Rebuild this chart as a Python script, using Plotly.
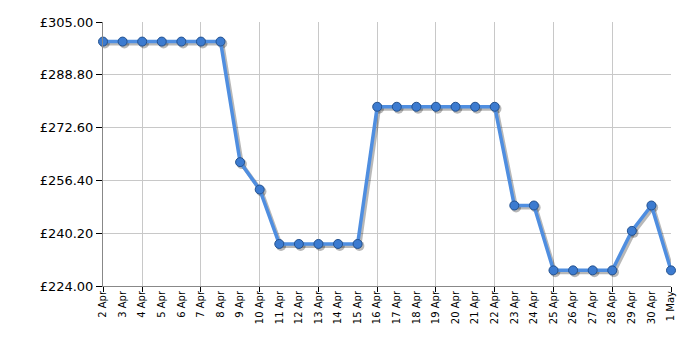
import plotly.graph_objects as go
import numpy as np

dates = ["2 Apr", "3 Apr", "4 Apr", "5 Apr", "6 Apr", "7 Apr", "8 Apr", "9 Apr", "10 Apr",
         "11 Apr", "12 Apr", "13 Apr", "14 Apr", "15 Apr", "16 Apr", "17 Apr", "18 Apr",
         "19 Apr", "20 Apr", "21 Apr", "22 Apr", "23 Apr", "24 Apr", "25 Apr", "26 Apr",
         "27 Apr", "28 Apr", "29 Apr", "30 Apr", "1 May"]
prices = [298.99, 298.99, 298.99, 298.99, 298.99, 298.99, 298.99, 262.0, 253.6,
          236.9, 236.9, 236.9, 236.9, 236.9, 278.99, 278.99, 278.99,
          278.99, 278.99, 278.99, 278.99, 248.7, 248.7, 228.8, 228.8,
          228.8, 228.8, 240.9, 248.7, 228.8]
y_ticks = [224.00, 240.20, 256.40, 272.60, 288.80, 305.00]
y_labels = ["£224.00", "£240.20", "£256.40", "£272.60", "£288.80", "£305.00"]
grid_days = ["2 Apr", "4 Apr", "7 Apr", "10 Apr", "13 Apr", "16 Apr", "19 Apr",
             "22 Apr", "25 Apr", "28 Apr", "1 May"]

xi = np.arange(len(dates))
grid_idx = [dates.index(d) for d in grid_days]

fig = go.Figure()
# shadow
fig.add_trace(go.Scatter(
    x=xi + 0.09, y=np.array(prices) - 0.6, mode="lines+markers",
    line=dict(color="rgba(0,0,0,0.28)", width=4),
    marker=dict(size=10, color="rgba(0,0,0,0.28)", line=dict(width=0)),
    cliponaxis=False, hoverinfo="skip", showlegend=False))
fig.add_trace(go.Scatter(
    x=xi, y=prices, mode="lines+markers",
    line=dict(color="#4f8ee0", width=3.5),
    marker=dict(size=9, color="#3c7bd0", line=dict(color="#24528f", width=1)),
    cliponaxis=False, showlegend=False))

fig.update_layout(
    width=700, height=350,
    margin=dict(l=103, r=29, t=22, b=64),
    paper_bgcolor="white", plot_bgcolor="white",
    font=dict(family="Verdana, DejaVu Sans, sans-serif", color="#000"),
    xaxis=dict(
        range=[0, len(dates) - 1], tickmode="array", tickvals=list(xi), ticktext=dates,
        tickangle=-90, tickfont=dict(size=10), ticks="", showgrid=False,
        showline=True, linecolor="#888", linewidth=1, zeroline=False,
        minor=dict(tickmode="array", tickvals=grid_idx, ticks="outside", ticklen=5,
                   tickcolor="#000", showgrid=True, gridcolor="#c8c8c8", gridwidth=1),
    ),
    yaxis=dict(
        range=[224, 305], tickmode="array", tickvals=y_ticks, ticktext=y_labels,
        tickfont=dict(size=13), ticks="outside", ticklen=6, tickcolor="#000",
        showgrid=True, gridcolor="#c8c8c8", gridwidth=1,
        showline=True, linecolor="#888", linewidth=1, zeroline=False,
    ),
)
fig.write_html("out.html")
